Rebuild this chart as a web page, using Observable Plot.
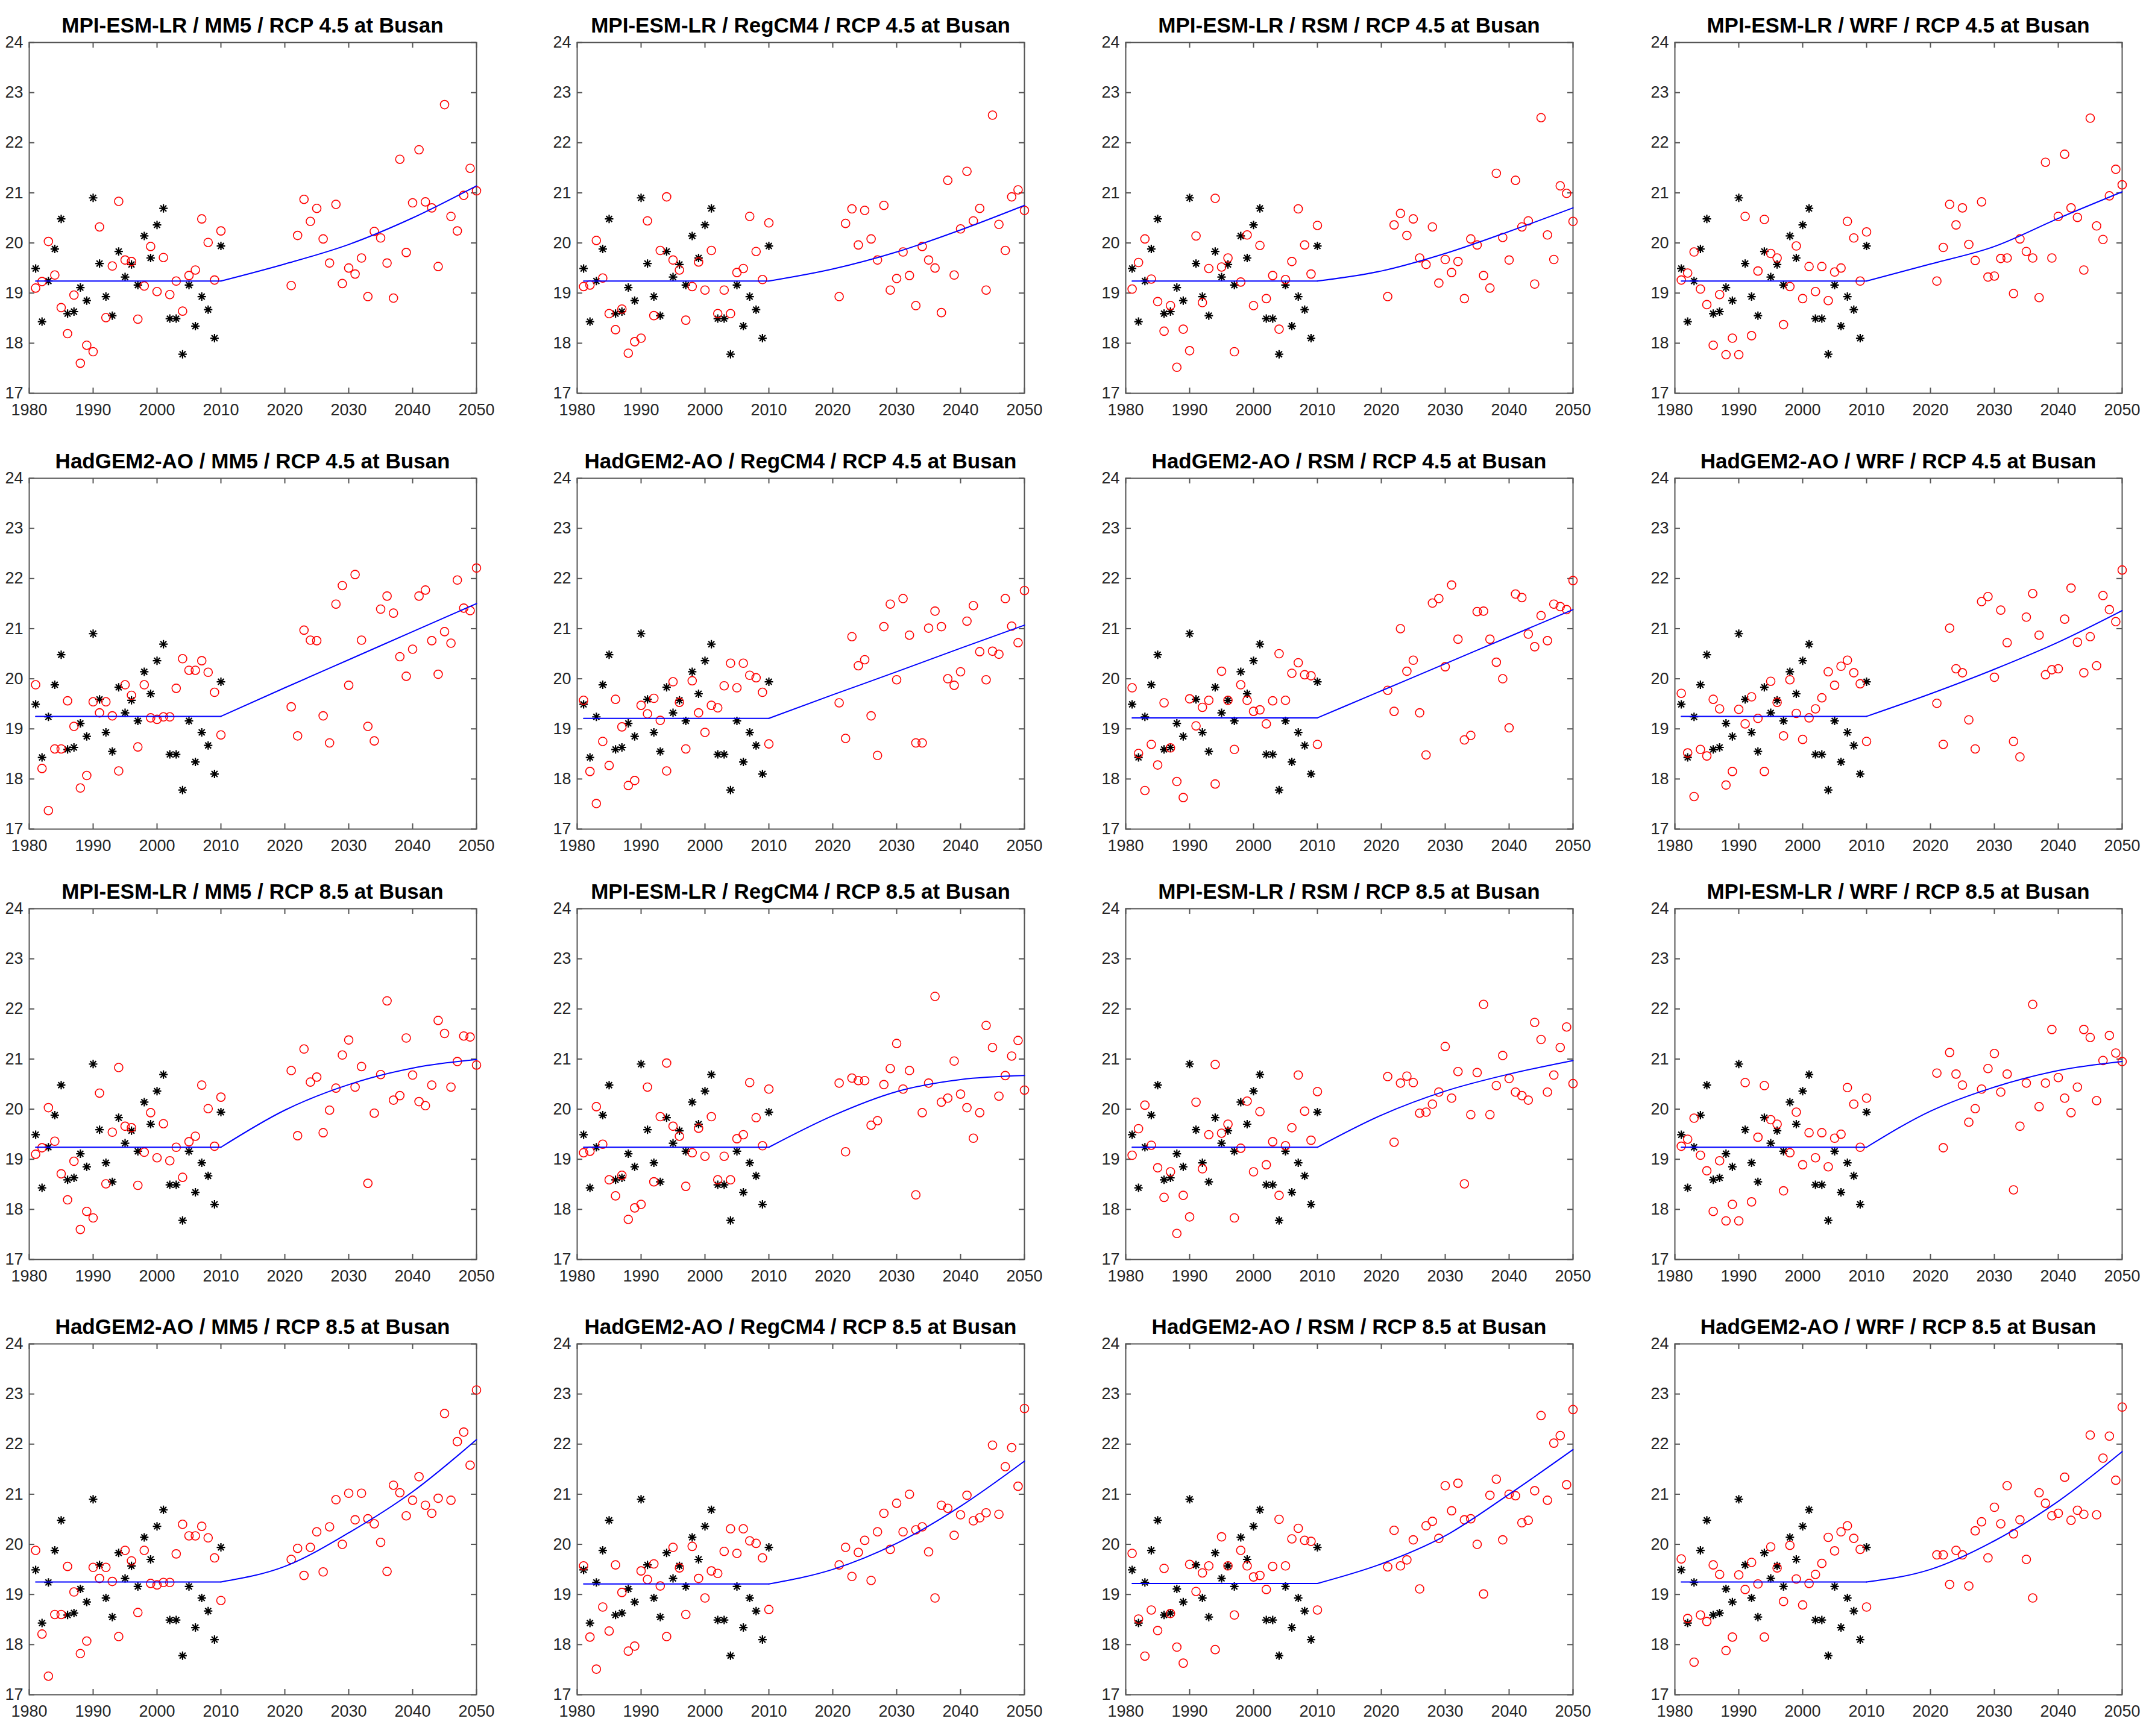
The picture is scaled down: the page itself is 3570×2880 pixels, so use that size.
<!DOCTYPE html>
<html>
<head>
<meta charset="utf-8">
<script src="https://cdn.jsdelivr.net/npm/d3@7"></script>
<script src="https://cdn.jsdelivr.net/npm/@observablehq/plot@0.6"></script>
<style>
  html, body { margin: 0; padding: 0; background: #fff; }
  #root { position: relative; width: 3570px; height: 2880px; background: #fff; overflow: hidden;
          font-family: "Liberation Sans", Arial, sans-serif; }
  .title { position: absolute; font-weight: bold; font-size: 35px; line-height: 35px; text-align: center;
           color: #000; white-space: nowrap; }
  .panel { position: absolute; }
</style>
</head>
<body>
<div id="root"></div>
<script>
// ---------- Years ----------
const histYears = [1981,1982,1983,1984,1985,1986,1987,1988,1989,1990,1991,1992,1993,1994,1995,
                   1996,1997,1998,1999,2000,2001,2002,2003,2004,2005,2006,2007,2008,2009,2010];
const futYears  = [2021,2022,2023,2024,2025,2026,2027,2028,2029,2030,2031,2032,2033,2034,2035,
                   2036,2037,2038,2039,2040,2041,2042,2043,2044,2045,2046,2047,2048,2049,2050];
const trendYears = [1981, 2010, 2020, 2030, 2040, 2050];
const xTickValues = [1980, 1990, 2000, 2010, 2020, 2030, 2040, 2050];
const yTickValues = [17, 18, 19, 20, 21, 22, 23, 24];

// ---------- Observed (black asterisks) ----------
const obsBusan = [19.49,18.43,19.24,19.88,20.48,18.59,18.63,19.11,18.85,20.90,19.59,18.93,18.55,19.83,19.32,
                  19.57,19.16,20.14,19.70,20.36,20.69,18.49,18.49,17.78,19.16,18.34,18.93,18.67,18.10,19.94];

// ---------- Historical model runs (red circles, 1981-2010) ----------
const histMPI_MM5    = [19.10,19.23,20.03,19.36,18.71,18.19,18.96,17.60,17.96,17.83,20.32,18.51,19.54,20.83,19.66,
                        19.63,18.48,19.14,19.93,19.03,19.71,18.97,19.24,18.64,19.35,19.46,20.48,20.01,19.26,20.24];
const histMPI_RegCM4 = [19.13,19.16,20.05,19.30,18.59,18.27,18.68,17.80,18.03,18.10,20.44,18.55,19.85,20.92,19.66,
                        19.46,18.46,19.13,19.62,19.06,19.85,18.59,19.06,18.59,19.41,19.49,20.53,19.83,19.27,20.40];
const histMPI_RSM    = [19.08,19.61,20.08,19.28,18.83,18.24,18.75,17.52,18.28,17.85,20.14,18.81,19.49,20.89,19.52,
                        19.70,17.83,19.22,20.16,18.75,19.95,18.89,19.35,18.28,19.27,19.63,20.68,19.96,19.38,20.35];
const histMPI_WRF    = [19.26,19.40,19.82,19.08,18.77,17.96,18.97,17.77,18.10,17.77,20.53,18.15,19.44,20.47,19.79,
                        19.70,18.37,19.13,19.94,18.89,19.53,19.03,19.53,18.85,19.42,19.50,20.43,20.10,19.24,20.22];
const histHad_MM5    = [19.88,18.21,17.37,18.60,18.60,19.56,19.05,17.82,18.07,19.54,19.32,19.54,19.26,18.16,19.88,
                        19.67,18.64,19.88,19.22,19.19,19.24,19.24,19.81,20.40,20.17,20.17,20.36,20.13,19.73,18.88];
const histHad_RegCM4 = [19.57,18.15,17.51,18.75,18.27,19.59,19.04,17.87,17.97,19.47,19.30,19.61,19.17,18.16,19.94,
                        19.53,18.60,19.96,19.32,18.93,19.47,19.42,19.86,20.31,19.82,20.31,20.07,20.02,19.73,18.70];
const histHad_RSM    = [19.82,18.51,17.77,18.69,18.28,19.52,18.62,17.95,17.63,19.60,19.06,19.43,19.57,17.90,20.15,
                        19.57,18.59,19.88,19.57,19.35,19.38,19.10,19.56,20.50,19.57,20.11,20.32,20.08,20.06,18.69];
const histHad_WRF    = [19.71,18.52,17.65,18.59,18.46,19.59,19.40,17.88,18.15,19.39,19.10,19.64,19.21,18.15,19.95,
                        19.53,18.86,19.98,19.31,18.79,19.22,19.40,19.62,20.14,19.87,20.25,20.37,20.12,19.90,18.75];

// ---------- Future projections (red circles, 2021-2050) ----------
const fut45_MPI_MM5    = [19.15,20.15,20.87,20.43,20.69,20.08,19.60,20.77,19.19,19.50,19.38,19.70,18.93,20.23,20.10,
                          19.60,18.90,21.67,19.81,20.80,21.86,20.82,20.70,19.53,22.76,20.53,20.24,20.95,21.49,21.04];
const fut45_MPI_RegCM4 = [18.93,20.39,20.68,19.96,20.65,20.08,19.66,20.75,19.06,19.29,19.82,19.35,18.75,19.93,19.66,
                          19.50,18.61,21.25,19.36,20.28,21.43,20.44,20.69,19.06,22.55,20.37,19.85,20.92,21.06,20.65];
const fut45_MPI_RSM    = [18.93,20.36,20.59,20.15,20.48,19.70,19.57,20.32,19.20,19.67,19.41,19.63,18.89,20.08,19.96,
                          19.35,19.10,21.39,20.11,19.66,21.25,20.32,20.44,19.18,22.50,20.16,19.67,21.14,20.99,20.43];
const fut45_MPI_WRF    = [19.24,19.91,20.77,20.36,20.70,19.97,19.65,20.82,19.32,19.34,19.69,19.70,18.99,20.08,19.83,
                          19.70,18.91,21.61,19.70,20.53,21.77,20.70,20.51,19.46,22.49,20.34,20.07,20.94,21.47,21.16];
const fut45_Had_MM5    = [19.44,18.86,20.97,20.77,20.76,19.26,18.72,21.49,21.86,19.87,22.08,20.77,19.05,18.76,21.39,
                          21.65,21.31,20.44,20.05,20.59,21.65,21.77,20.76,20.09,20.94,20.71,21.97,21.41,21.36,22.21];
const fut45_Had_RegCM4 = [19.52,18.81,20.84,20.26,20.38,19.26,18.47,21.04,21.49,19.98,21.60,20.87,18.72,18.72,21.01,
                          21.35,21.04,20.00,19.87,20.14,21.15,21.46,20.54,19.98,20.55,20.49,21.60,21.05,20.72,21.76];
const fut45_Had_RSM    = [19.77,19.35,21.00,20.15,20.37,19.32,18.48,21.51,21.60,20.24,21.87,20.79,18.78,18.87,21.34,
                          21.35,20.79,20.33,20.00,19.02,21.69,21.62,20.89,20.64,21.26,20.76,21.49,21.44,21.38,21.96];
const fut45_Had_WRF    = [19.51,18.69,21.01,20.20,20.12,19.18,18.60,21.54,21.64,20.03,21.37,20.72,18.75,18.44,21.23,
                          21.70,20.87,20.08,20.18,20.20,21.19,21.81,20.73,20.12,20.84,20.26,21.66,21.38,21.14,22.17];
const fut85_MPI_MM5    = [20.77,19.47,21.20,20.54,20.64,19.53,19.98,20.42,21.08,21.38,20.44,20.85,18.52,19.92,20.69,
                          22.16,20.18,20.27,21.42,20.68,20.15,20.07,20.48,21.77,21.51,20.44,20.95,21.46,21.44,20.88];
const fut85_MPI_RegCM4 = [20.52,19.15,20.62,20.57,20.57,19.68,19.77,20.49,20.81,21.31,20.40,20.77,18.29,19.93,20.52,
                          22.25,20.14,20.22,20.96,20.30,20.03,19.42,19.93,21.67,21.23,20.26,20.67,21.06,21.37,20.38];
const fut85_MPI_RSM    = [20.65,19.34,20.52,20.66,20.53,19.92,19.94,20.10,20.34,21.25,20.22,20.75,18.51,19.89,20.73,
                          22.09,19.89,20.47,21.07,20.61,20.34,20.27,20.18,21.73,21.39,20.34,20.68,21.23,21.64,20.51];
const fut85_MPI_WRF    = [20.72,19.23,21.13,20.70,20.48,19.74,20.01,20.40,20.81,21.11,20.34,20.70,18.39,19.66,20.52,
                          22.09,20.05,20.52,21.59,20.63,20.22,19.93,20.44,21.59,21.43,20.17,20.97,21.47,21.12,20.95];
const fut85_Had_MM5    = [19.70,19.92,19.38,19.94,20.25,19.45,20.35,20.89,20.00,21.02,20.49,21.02,20.51,20.41,20.04,
                          19.46,21.18,21.03,20.57,20.88,21.35,20.78,20.62,20.92,22.61,20.88,22.05,22.24,21.58,23.08];
const fut85_Had_RegCM4 = [19.59,19.94,19.36,19.84,20.08,19.28,20.25,20.62,19.90,20.82,20.25,21.00,20.29,20.35,19.85,
                          18.93,20.78,20.72,20.18,20.59,20.98,20.47,20.53,20.63,21.98,20.60,21.55,21.93,21.16,22.71];
const fut85_Had_RSM    = [19.55,20.28,19.57,19.69,20.09,19.11,20.37,20.46,20.12,21.17,20.67,21.22,20.49,20.51,20.00,
                          19.01,20.98,21.30,20.09,21.00,20.97,20.43,20.48,21.07,22.57,20.88,22.02,22.17,21.19,22.69];
const fut85_Had_WRF    = [19.79,19.79,19.20,19.88,19.79,19.17,20.27,20.45,19.73,20.74,20.41,21.17,20.21,20.49,19.70,
                          18.93,21.03,20.82,20.57,20.62,21.34,20.48,20.68,20.60,22.18,20.59,21.72,22.16,21.28,22.74];

// ---------- Trend lines (blue), values at trendYears ----------
const trend45_MPI_MM5    = [19.24,19.24,19.58,19.97,20.50,21.14];
const trend45_MPI_RegCM4 = [19.24,19.24,19.48,19.82,20.26,20.75];
const trend45_MPI_RSM    = [19.24,19.24,19.44,19.79,20.23,20.70];
const trend45_MPI_WRF    = [19.24,19.24,19.58,19.93,20.49,21.02];
const trend45_Had_MM5    = [19.25,19.25,19.82,20.38,20.94,21.50];
const trend45_Had_RegCM4 = [19.21,19.21,19.68,20.14,20.61,21.07];
const trend45_Had_RSM    = [19.22,19.22,19.76,20.30,20.84,21.38];
const trend45_Had_WRF    = [19.25,19.25,19.70,20.19,20.73,21.36];
const trend85_MPI_MM5    = [19.24,19.24,19.98,20.49,20.82,20.99];
const trend85_MPI_RegCM4 = [19.24,19.24,19.87,20.35,20.59,20.67];
const trend85_MPI_RSM    = [19.24,19.24,19.88,20.36,20.70,20.97];
const trend85_MPI_WRF    = [19.24,19.24,19.96,20.44,20.77,20.95];
const trend85_Had_MM5    = [19.25,19.25,19.56,20.23,21.05,22.09];
const trend85_Had_RegCM4 = [19.21,19.21,19.50,20.02,20.76,21.66];
const trend85_Had_RSM    = [19.22,19.22,19.61,20.17,21.00,21.89];
const trend85_Had_WRF    = [19.25,19.25,19.50,20.07,20.86,21.85];

// ---------- Panel list ----------
const panels = [
  {title: "MPI-ESM-LR / MM5 / RCP 4.5 at Busan",     hist: histMPI_MM5,    fut: fut45_MPI_MM5,    trend: trend45_MPI_MM5},
  {title: "MPI-ESM-LR / RegCM4 / RCP 4.5 at Busan",  hist: histMPI_RegCM4, fut: fut45_MPI_RegCM4, trend: trend45_MPI_RegCM4},
  {title: "MPI-ESM-LR / RSM / RCP 4.5 at Busan",     hist: histMPI_RSM,    fut: fut45_MPI_RSM,    trend: trend45_MPI_RSM},
  {title: "MPI-ESM-LR / WRF / RCP 4.5 at Busan",     hist: histMPI_WRF,    fut: fut45_MPI_WRF,    trend: trend45_MPI_WRF},
  {title: "HadGEM2-AO / MM5 / RCP 4.5 at Busan",     hist: histHad_MM5,    fut: fut45_Had_MM5,    trend: trend45_Had_MM5},
  {title: "HadGEM2-AO / RegCM4 / RCP 4.5 at Busan",  hist: histHad_RegCM4, fut: fut45_Had_RegCM4, trend: trend45_Had_RegCM4},
  {title: "HadGEM2-AO / RSM / RCP 4.5 at Busan",     hist: histHad_RSM,    fut: fut45_Had_RSM,    trend: trend45_Had_RSM},
  {title: "HadGEM2-AO / WRF / RCP 4.5 at Busan",     hist: histHad_WRF,    fut: fut45_Had_WRF,    trend: trend45_Had_WRF},
  {title: "MPI-ESM-LR / MM5 / RCP 8.5 at Busan",     hist: histMPI_MM5,    fut: fut85_MPI_MM5,    trend: trend85_MPI_MM5},
  {title: "MPI-ESM-LR / RegCM4 / RCP 8.5 at Busan",  hist: histMPI_RegCM4, fut: fut85_MPI_RegCM4, trend: trend85_MPI_RegCM4},
  {title: "MPI-ESM-LR / RSM / RCP 8.5 at Busan",     hist: histMPI_RSM,    fut: fut85_MPI_RSM,    trend: trend85_MPI_RSM},
  {title: "MPI-ESM-LR / WRF / RCP 8.5 at Busan",     hist: histMPI_WRF,    fut: fut85_MPI_WRF,    trend: trend85_MPI_WRF},
  {title: "HadGEM2-AO / MM5 / RCP 8.5 at Busan",     hist: histHad_MM5,    fut: fut85_Had_MM5,    trend: trend85_Had_MM5},
  {title: "HadGEM2-AO / RegCM4 / RCP 8.5 at Busan",  hist: histHad_RegCM4, fut: fut85_Had_RegCM4, trend: trend85_Had_RegCM4},
  {title: "HadGEM2-AO / RSM / RCP 8.5 at Busan",     hist: histHad_RSM,    fut: fut85_Had_RSM,    trend: trend85_Had_RSM},
  {title: "HadGEM2-AO / WRF / RCP 8.5 at Busan",     hist: histHad_WRF,    fut: fut85_Had_WRF,    trend: trend85_Had_WRF}
];

// ---------- Layout ----------
const colLeft = [48, 957, 1867, 2778];
const rowTop  = [70, 793, 1507, 2229];
const PW = 742, PH = 582;
const ML = 70, MR = 50, MT = 12, MB = 60;
const FONT = '"Liberation Sans", Arial, Helvetica, sans-serif';
const axisColor = "#555555";
const labelColor = "#262626";

// MATLAB-style asterisk: '+' and 'x' superimposed
const asterisk8 = {
  draw(context, size) {
    const r = Math.sqrt(size / Math.PI);
    const d = r * Math.SQRT1_2;
    context.moveTo(-r, 0); context.lineTo(r, 0);
    context.moveTo(0, -r); context.lineTo(0, r);
    context.moveTo(-d, -d); context.lineTo(d, d);
    context.moveTo(-d, d); context.lineTo(d, -d);
  }
};

const root = document.getElementById("root");

panels.forEach((p, i) => {
  const col = i % 4, row = Math.floor(i / 4);
  const obs = histYears.map((year, k) => ({year, value: obsBusan[k]}));
  const model = histYears.map((year, k) => ({year, value: p.hist[k]}))
    .concat(futYears.map((year, k) => ({year, value: p.fut[k]})));
  const trend = trendYears.map((year, k) => ({year, value: p.trend[k]}));
  const flatPart = trend.slice(0, 2);
  const risePart = trend.slice(1);

  const chart = Plot.plot({
    width: PW + ML + MR,
    height: PH + MT + MB,
    marginLeft: ML, marginRight: MR, marginTop: MT, marginBottom: MB,
    x: {domain: [1980, 2050]},
    y: {domain: [17, 24]},
    style: {fontFamily: FONT, fontSize: "27px", color: labelColor, background: "transparent", overflow: "visible"},
    marks: [
      Plot.axisX(xTickValues, {anchor: "bottom", tickSize: 0, tickPadding: 17, tickFormat: d => String(d),
                               label: null, fontSize: 27, fill: labelColor}),
      Plot.axisY(yTickValues, {anchor: "left", tickSize: 0, tickPadding: 10, tickFormat: d => String(d),
                               label: null, fontSize: 27, fill: labelColor}),
      // inward ticks on all four sides
      Plot.tickX(xTickValues, {x: d => d, insetTop: PH - 9, stroke: axisColor, strokeWidth: 2}),
      Plot.tickX(xTickValues, {x: d => d, insetBottom: PH - 9, stroke: axisColor, strokeWidth: 2}),
      Plot.tickY(yTickValues, {y: d => d, insetRight: PW - 9, stroke: axisColor, strokeWidth: 2}),
      Plot.tickY(yTickValues, {y: d => d, insetLeft: PW - 9, stroke: axisColor, strokeWidth: 2}),
      Plot.frame({stroke: axisColor, strokeWidth: 2}),
      Plot.dot(obs, {x: "year", y: "value", symbol: asterisk8, r: 7, stroke: "#000", strokeWidth: 2.2, fill: "none"}),
      Plot.dot(model, {x: "year", y: "value", r: 7, stroke: "#ff0000", strokeWidth: 1.6, fill: "none"}),
      Plot.line(flatPart, {x: "year", y: "value", stroke: "#0000ff", strokeWidth: 2}),
      Plot.line(risePart, {x: "year", y: "value", stroke: "#0000ff", strokeWidth: 2, curve: "monotone-x"})
    ]
  });

  const holder = document.createElement("div");
  holder.className = "panel";
  holder.style.left = (colLeft[col] - ML) + "px";
  holder.style.top = (rowTop[row] - MT) + "px";
  holder.appendChild(chart);
  root.appendChild(holder);

  const t = document.createElement("div");
  t.className = "title";
  t.textContent = p.title;
  t.style.left = colLeft[col] + "px";
  t.style.width = PW + "px";
  t.style.top = (rowTop[row] - 46) + "px";
  root.appendChild(t);
});
</script>
</body>
</html>
